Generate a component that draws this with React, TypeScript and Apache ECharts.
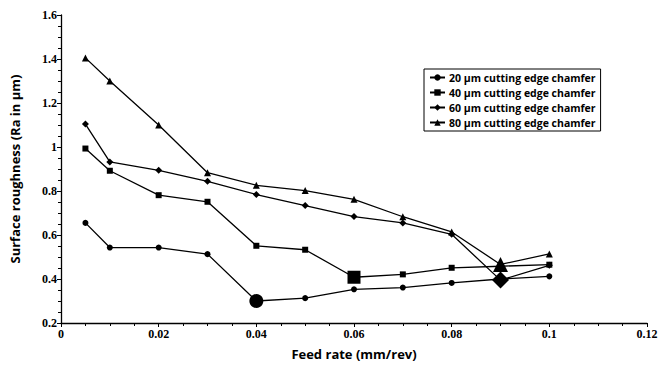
import React, { useEffect, useRef } from "react";
import * as echarts from "echarts";

const feedRates = [0.005, 0.01, 0.02, 0.03, 0.04, 0.05, 0.06, 0.07, 0.08, 0.09, 0.1];
const s20 = [0.655, 0.543, 0.543, 0.513, 0.3, 0.313, 0.353, 0.361, 0.382, 0.4, 0.412];
const s40 = [0.993, 0.892, 0.781, 0.751, 0.551, 0.533, 0.408, 0.421, 0.451, 0.458, 0.465];
const s60 = [1.104, 0.932, 0.894, 0.844, 0.784, 0.734, 0.684, 0.655, 0.603, 0.395, 0.462];
const s80 = [1.405, 1.3, 1.1, 0.883, 0.826, 0.802, 0.762, 0.683, 0.614, 0.466, 0.514];
const names = [
  "20 µm cutting edge chamfer",
  "40 µm cutting edge chamfer",
  "60 µm cutting edge chamfer",
  "80 µm cutting edge chamfer",
];
const symbols = ["circle", "rect", "diamond", "triangle"];
const normalSizes = [6, 6, 7, 7];
const bigIndex = [4, 6, 9, 9];
const bigSizes = [14, 13, 17, 15];

export default function App() {
  const ref = useRef<HTMLDivElement>(null);
  useEffect(() => {
    const chart = echarts.init(ref.current!, null, { renderer: "svg" });
    const all = [s20, s40, s60, s80];
    const series = all.map((vals, si) => ({
      name: names[si],
      type: "line",
      symbol: symbols[si],
      symbolSize: normalSizes[si],
      lineStyle: { color: "#000", width: 1.3 },
      itemStyle: { color: "#000" },
      data: vals.map((v, i) =>
        i === bigIndex[si]
          ? { value: [feedRates[i], v], symbolSize: bigSizes[si] }
          : { value: [feedRates[i], v] }
      ),
    }));
    const tickFont = {
      fontFamily: "Liberation Serif",
      fontWeight: "bold",
      fontSize: 12,
      color: "#000",
    };
    chart.setOption({
      animation: false,
      backgroundColor: "#fff",
      grid: { left: 58, top: 15, right: 25, bottom: 39, containLabel: false },
      legend: {
        left: 424,
        top: 69,
        orient: "vertical",
        borderColor: "#000",
        borderWidth: 1,
        padding: [3, 5, 3, 5],
        itemWidth: 15,
        itemHeight: 8,
        itemGap: 4,
        textStyle: {
          fontFamily: "Open Sans",
          fontWeight: "bold",
          fontSize: 10.5,
          color: "#000",
          padding: [0, 0, 0, -1],
        },
        data: names,
      },
      xAxis: {
        type: "value",
        min: 0,
        max: 0.12,
        interval: 0.02,
        name: "Feed rate (mm/rev)",
        nameLocation: "middle",
        nameGap: 24,
        nameTextStyle: {
          fontFamily: "Open Sans",
          fontWeight: "bold",
          fontSize: 13,
          color: "#000",
        },
        axisLine: { show: true, lineStyle: { color: "#000", width: 1.3 } },
        axisTick: { show: true, length: 4, lineStyle: { color: "#000" } },
        minorTick: { show: true, splitNumber: 4, length: 3, lineStyle: { color: "#000" } },
        splitLine: { show: false },
        axisLabel: { ...tickFont, margin: 5 },
      },
      yAxis: {
        type: "value",
        min: 0.2,
        max: 1.6,
        interval: 0.2,
        name: "Surface roughness (Ra in µm)",
        nameLocation: "middle",
        nameGap: 40,
        nameTextStyle: {
          fontFamily: "Open Sans",
          fontWeight: "bold",
          fontSize: 13,
          color: "#000",
        },
        axisLine: { show: true, lineStyle: { color: "#000", width: 1.3 } },
        axisTick: { show: true, length: 4, lineStyle: { color: "#000" } },
        minorTick: { show: true, splitNumber: 4, length: 3, lineStyle: { color: "#000" } },
        splitLine: { show: false },
        axisLabel: { ...tickFont, margin: 4 },
      },
      series,
    });
    return () => chart.dispose();
  }, []);
  return (
    <div
      ref={ref}
      style={{ position: "fixed", left: 0, top: 0, width: 672, height: 365, background: "#fff" }}
    />
  );
}
